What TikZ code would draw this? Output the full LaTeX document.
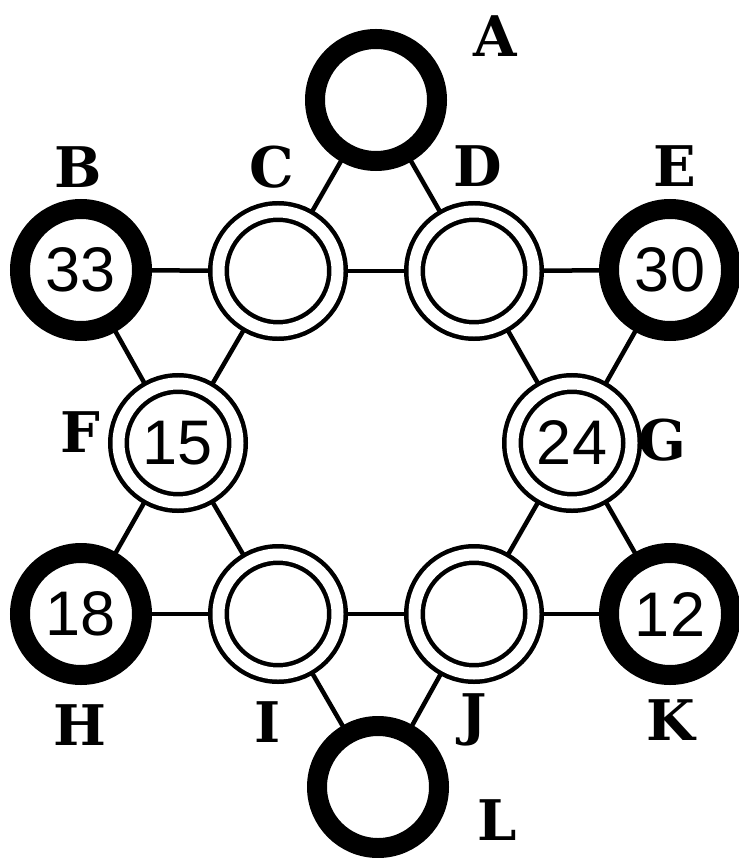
\documentclass[tikz,border=0pt]{standalone}
\usepackage{fontspec}
\setmainfont{DejaVu Serif}
\newfontfamily\numfont{Liberation Sans}
\usetikzlibrary{backgrounds}
\begin{document}
\begin{tikzpicture}[x=1pt,y=-1pt,
  thickring/.style={circle, draw, line width=20pt, minimum size=122pt, fill=white, inner sep=0pt,
    font=\numfont\fontsize{63}{63}\selectfont},
  dring/.style={circle, draw, line width=4.5pt, double, double distance=12pt, minimum size=119pt, fill=white, inner sep=0pt,
    font=\numfont\fontsize{63}{63}\selectfont},
  lbl/.style={inner sep=0pt, font=\bfseries\fontsize{56}{56}\selectfont},
  conn/.style={line width=4.5pt}]
\useasboundingbox (0,0) rectangle (738,858);
% circles
\node[thickring] (A) at (376,100) {};
\node[thickring] (B) at (81,270) {33};
\node[dring] (C) at (278,271) {};
\node[dring] (D) at (474,271) {};
\node[thickring] (E) at (670,270) {30};
\node[dring] (F) at (178,443) {15};
\node[dring] (G) at (572,443) {24};
\node[thickring] (H) at (81,614) {18};
\node[dring] (I) at (278,614) {};
\node[dring] (J) at (474,614) {};
\node[thickring] (K) at (670,614) {12};
\node[thickring] (L) at (378,787) {};
% labels
\node[lbl] (lA) at (495,36) {A};
\node[lbl] (lB) at (78,167) {B};
\node[lbl] (lC) at (272,167) {C};
\node[lbl] (lD) at (478,166) {D};
\node[lbl] (lE) at (675,166) {E};
\node[lbl] (lF) at (80,432) {F};
\node[lbl] (lG) at (662,440) {G};
\node[lbl] (lH) at (80,725) {H};
\node[lbl] (lI) at (268,722) {I};
\node[lbl] (lJ) at (474,720) {J};
\node[lbl] (lK) at (671,720) {K};
\node[lbl] (lL) at (497,820) {L};
% connectors
\begin{scope}[on background layer]
\draw[conn] (A.center) -- (C.center);
\draw[conn] (A.center) -- (D.center);
\draw[conn] (B.center) -- (C.center);
\draw[conn] (C.center) -- (D.center);
\draw[conn] (D.center) -- (E.center);
\draw[conn] (B.center) -- (F.center);
\draw[conn] (C.center) -- (F.center);
\draw[conn] (D.center) -- (G.center);
\draw[conn] (E.center) -- (G.center);
\draw[conn] (F.center) -- (H.center);
\draw[conn] (F.center) -- (I.center);
\draw[conn] (G.center) -- (J.center);
\draw[conn] (G.center) -- (K.center);
\draw[conn] (H.center) -- (I.center);
\draw[conn] (I.center) -- (J.center);
\draw[conn] (J.center) -- (K.center);
\draw[conn] (I.center) -- (L.center);
\draw[conn] (J.center) -- (L.center);
\end{scope}
\end{tikzpicture}
\end{document}
